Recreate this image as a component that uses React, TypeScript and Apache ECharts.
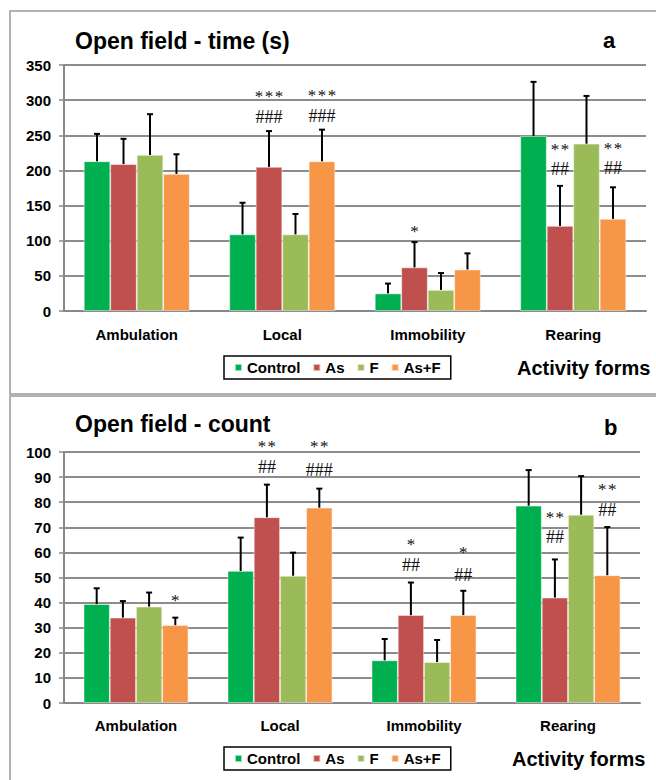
import React, { useEffect, useRef } from "react";
import * as echarts from "echarts";

// ---------- data ----------
const categories = ["Ambulation", "Local", "Immobility", "Rearing"];
const groups = ["Control", "As", "F", "As+F"];
const groupColors = ["#00B050", "#C0504D", "#9BBB59", "#F79646"];

// panel a: open field - time (s)
const timeControl = [213, 109, 25, 249];
const timeAs = [209, 205, 62, 121];
const timeF = [222, 109, 30, 238];
const timeAsF = [195, 213, 59, 131];
const timeControlSD = [39, 45, 14, 77];
const timeAsSD = [36, 51, 36, 57];
const timeFSD = [58, 29, 24, 68];
const timeAsFSD = [28, 45, 23, 45];
const timeTicks = { min: 0, max: 350, interval: 50 };
// significance marks: [category index, group index, level (axis units), text]
const timeMarks: [number, number, number, string][] = [
  [1, 1, 312, "***"],
  [1, 1, 276, "###"],
  [1, 3, 314, "***"],
  [1, 3, 277, "###"],
  [2, 1, 120, "*"],
  [3, 1, 237, "**"],
  [3, 1, 202, "##"],
  [3, 3, 239, "**"],
  [3, 3, 204, "##"],
];

// panel b: open field - count
const countControl = [39.4, 52.6, 17, 78.6];
const countAs = [34, 74, 35, 42];
const countF = [38.4, 50.7, 16.3, 75];
const countAsF = [31, 77.8, 35, 50.9];
const countControlSD = [6.3, 13.3, 8.5, 14.2];
const countAsSD = [6.6, 13, 13, 15.2];
const countFSD = [5.6, 9.2, 8.8, 15.4];
const countAsFSD = [3, 7.6, 9.7, 19.2];
const countTicks = { min: 0, max: 100, interval: 10 };
const countMarks: [number, number, number, string][] = [
  [0, 3, 43, "*"],
  [1, 1, 104, "**"],
  [1, 1, 94, "##"],
  [1, 3, 104, "**"],
  [1, 3, 93, "###"],
  [2, 1, 65, "*"],
  [2, 1, 55, "##"],
  [2, 3, 62, "*"],
  [2, 3, 51, "##"],
  [3, 1, 76, "**"],
  [3, 1, 66, "##"],
  [3, 3, 87, "**"],
  [3, 3, 77, "##"],
];

const panelTitles = ["Open field - time (s)", "Open field - count"];
const panelLetters = ["a", "b"];
const xAxisName = "Activity forms";

// ---------- styling ----------
const SANS = "'Liberation Sans', Arial, Helvetica, sans-serif";
const SERIF = "'Liberation Serif', 'Times New Roman', serif";
const BAR_FRAC = 0.182;
const GRID_COLOR = "#8c8c8c";

const timeMeans = [timeControl, timeAs, timeF, timeAsF];
const timeSDs = [timeControlSD, timeAsSD, timeFSD, timeAsFSD];
const countMeans = [countControl, countAs, countF, countAsF];
const countSDs = [countControlSD, countAsSD, countFSD, countAsFSD];

function barX(api: any, cat: number, grp: number) {
  const bw = api.size([1, 0])[0];
  const w = bw * BAR_FRAC;
  return api.coord([cat, 0])[0] + (grp - 1.5) * w;
}

function errorSeries(means: number[][], sds: number[][], axis: number) {
  const data: number[][] = [];
  means.forEach((arr, g) =>
    arr.forEach((m, c) => data.push([c, m + sds[g][c], m, g]))
  );
  return {
    type: "custom",
    name: "err" + axis,
    xAxisIndex: axis,
    yAxisIndex: axis,
    z: 5,
    clip: false,
    encode: { x: 0, y: 1 },
    data,
    renderItem: (params: any, api: any) => {
      const c = api.value(0);
      const top = api.value(1);
      const base = api.value(2);
      const g = api.value(3);
      const x = barX(api, c, g);
      const y1 = api.coord([c, base])[1];
      const y2 = api.coord([c, top])[1];
      const st = { stroke: "#000", lineWidth: 2 };
      return {
        type: "group",
        children: [
          { type: "line", shape: { x1: x, y1, x2: x, y2 }, style: st },
          { type: "line", shape: { x1: x - 3, y1: y2, x2: x + 3, y2 }, style: st },
        ],
      };
    },
  };
}

function markSeries(marks: [number, number, number, string][], axis: number) {
  return {
    type: "custom",
    name: "marks" + axis,
    xAxisIndex: axis,
    yAxisIndex: axis,
    z: 6,
    clip: false,
    encode: { x: 0, y: 1 },
    data: marks.map((m) => [m[0], m[2], m[1]]),
    renderItem: (params: any, api: any) => {
      const m = marks[params.dataIndex];
      const x = barX(api, m[0], m[1]);
      let y = api.coord([m[0], m[2]])[1];
      const isStar = m[3].startsWith("*");
      if (isStar) y += 5;
      const text = isStar ? m[3].split("").join("\u200A") : m[3];
      return {
        type: "text",
        x,
        y,
        style: {
          text,
          fill: "#111",
          fontFamily: SERIF,
          fontSize: isStar ? 17 : 18,
          align: "center",
          verticalAlign: "middle",
        },
      };
    },
  };
}

function barSeries(means: number[][], axis: number) {
  return means.map((arr, g) => ({
    type: "bar",
    name: groups[g],
    xAxisIndex: axis,
    yAxisIndex: axis,
    data: arr,
    barWidth: BAR_FRAC * 100 + "%",
    barGap: "0%",
    itemStyle: { color: groupColors[g], borderColor: "rgba(255,255,255,0.6)", borderWidth: 0.8 },
  }));
}

const axisLabelStyle = { fontSize: 15, fontWeight: "bold", color: "#000", fontFamily: SANS };

function xAxis(idx: number, margin: number) {
  return {
    gridIndex: idx,
    type: "category",
    data: categories,
    axisLine: { lineStyle: { color: "#888", width: 2 } },
    axisTick: { length: 5, lineStyle: { color: "#888", width: 1.5 } },
    axisLabel: { ...axisLabelStyle, margin },
  };
}

function yAxis(idx: number, t: { min: number; max: number; interval: number }) {
  return {
    gridIndex: idx,
    type: "value",
    min: t.min,
    max: t.max,
    interval: t.interval,
    axisLine: { show: true, lineStyle: { color: "#888", width: 2 } },
    axisTick: { show: true, length: 5, lineStyle: { color: "#888", width: 1.5 } },
    splitLine: { lineStyle: { color: GRID_COLOR, width: 2 } },
    axisLabel: { ...axisLabelStyle, margin: 13 },
  };
}

function legend(top: number) {
  return {
    data: groups,
    left: 224,
    top,
    orient: "horizontal",
    icon: "rect",
    itemWidth: 7,
    itemHeight: 7,
    itemGap: 12,
    padding: [4, 10, 4, 10],
    borderColor: "#000",
    borderWidth: 1.5,
    backgroundColor: "#fff",
    selectedMode: false,
    textStyle: { fontSize: 15, fontWeight: "bold", color: "#000", fontFamily: SANS },
  };
}

function textG(text: string, x: number, y: number, size: number, align = "left") {
  return {
    type: "text",
    x,
    y,
    z: 10,
    style: {
      text,
      fill: "#000",
      fontFamily: SANS,
      fontWeight: "bold",
      fontSize: size,
      align,
      verticalAlign: "middle",
    },
  };
}

export default function App() {
  const ref = useRef<HTMLDivElement>(null);
  useEffect(() => {
    if (!ref.current) return;
    const chart = echarts.init(ref.current, undefined, { renderer: "svg" });
    chart.setOption({
      animation: false,
      backgroundColor: "#fff",
      grid: [
        { left: 64, top: 65, width: 582, height: 246 },
        { left: 64, top: 452, width: 576, height: 251 },
      ],
      xAxis: [xAxis(0, 16), xAxis(1, 15)],
      yAxis: [yAxis(0, timeTicks), yAxis(1, countTicks)],
      legend: [legend(356), legend(747)],
      series: [
        ...barSeries(timeMeans, 0),
        ...barSeries(countMeans, 1),
        errorSeries(timeMeans, timeSDs, 0),
        errorSeries(countMeans, countSDs, 1),
        markSeries(timeMarks, 0),
        markSeries(countMarks, 1),
      ],
      graphic: [
        {
          type: "rect",
          shape: { x: 10, y: 11, width: 700, height: 383 },
          style: { fill: "none", stroke: "#999", lineWidth: 1.5 },
          silent: true,
        },
        {
          type: "rect",
          shape: { x: 10, y: 396, width: 700, height: 420 },
          style: { fill: "none", stroke: "#999", lineWidth: 1.5 },
          silent: true,
        },
        textG(panelTitles[0], 75, 41, 23),
        textG(panelLetters[0], 603, 40, 22),
        textG(xAxisName, 517, 368, 20),
        textG(panelTitles[1], 75, 424, 23),
        textG(panelLetters[1], 604, 427, 22),
        textG(xAxisName, 512, 759, 20),
      ],
    });
    return () => chart.dispose();
  }, []);
  return (
    <div
      ref={ref}
      style={{ position: "absolute", left: 0, top: 0, width: 656, height: 780, background: "#fff" }}
    />
  );
}
